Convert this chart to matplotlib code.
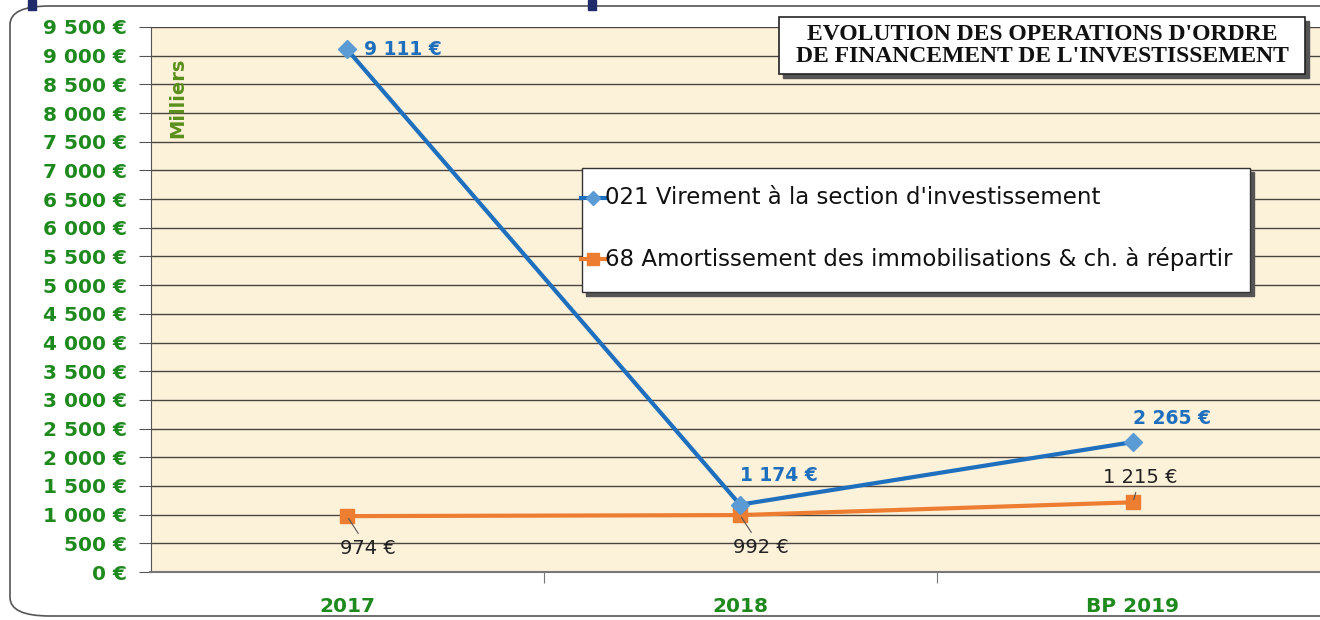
import numpy as np
import matplotlib.pyplot as plt
from matplotlib.patches import FancyBboxPatch, Rectangle

categories = ['2017', '2018', 'BP 2019']
virement = [9111, 1174, 2265]
amortissement = [974, 992, 1215]
virement_labels = ['9 111 €', '1 174 €', '2 265 €']
amort_labels = ['974 €', '992 €', '1 215 €']
yticks = np.arange(0, 9501, 500)

def fmt(v):
    return '{:,}'.format(int(v)).replace(',', ' ') + ' €'

green = '#1e8a1e'
blue = '#1f6fbf'
orange = '#ed7d31'

fig = plt.figure(figsize=(13.2, 6.2), dpi=100)

# outer frame
frame = FancyBboxPatch((10/1320, 4/620), 1400/1320, 610/620,
                       boxstyle='round,pad=0,rounding_size=0.03',
                       transform=fig.transFigure, fill=False, ec='#555555', lw=1.2)
fig.patches.append(frame)
for xx in [28, 588]:
    fig.patches.append(Rectangle((xx/1320, 610/620), 8/1320, 10/620,
                                 transform=fig.transFigure, color='#1f2a6b'))

ax = fig.add_axes([150.5/1320, 48/620, 1179/1320, 545/620])
ax.set_facecolor('#fcf1d9')
x = np.arange(len(categories))

ax.plot(x, virement, color=blue, lw=3, marker='D', markersize=9,
        markerfacecolor='#5b9bd5', markeredgecolor='#5b9bd5', zorder=4)
ax.plot(x, amortissement, color=orange, lw=3, marker='s', markersize=10,
        markerfacecolor=orange, markeredgecolor=orange, zorder=3)

ax.set_xlim(-0.5, 2.5)
ax.set_ylim(0, 9500)
ax.set_yticks(yticks)
ax.set_yticklabels([fmt(v) for v in yticks], color=green, fontsize=14.5, fontweight='bold')
ax.set_xticks([0.5, 1.5])
ax.set_xticklabels([])
ax.tick_params(axis='x', length=8, color='#777777')
ax.tick_params(axis='y', length=9, color='#555555', pad=8)
for i, c in enumerate(categories):
    fig.text((150.5 + 393 * (i + 0.5)) / 1320, (620 - 606) / 620, c, ha='center', va='center',
             color=green, fontsize=14.5, fontweight='bold')
ax.grid(axis='y', color='#4a4540', lw=1)
ax.set_axisbelow(True)
for s in ['top', 'right']:
    ax.spines[s].set_visible(False)
ax.spines['left'].set_color('#555555')
ax.spines['bottom'].set_color('#777777')
ax.spines['bottom'].set_linewidth(1.5)

# data labels
ax.annotate(virement_labels[0], (0, virement[0]), xytext=(12, 0), textcoords='offset points',
            color=blue, fontsize=13.5, fontweight='bold', va='center')
ax.annotate(virement_labels[1], (1, virement[1]), xytext=(0, 14), textcoords='offset points',
            color=blue, fontsize=13.5, fontweight='bold', va='bottom')
ax.annotate(virement_labels[2], (2, virement[2]), xytext=(0, 10), textcoords='offset points',
            color=blue, fontsize=13.5, fontweight='bold', va='bottom', ha='left')
for i, (v, lab) in enumerate(zip(amortissement, amort_labels)):
    if i < 2:
        ax.annotate(lab, (i, v), xytext=(15, -23), textcoords='offset points',
                    fontsize=14, color='#222222', ha='center', va='center',
                    arrowprops=dict(arrowstyle='-', color='#555555', lw=0.8))
    else:
        ax.annotate(lab, (i, v), xytext=(5, 18), textcoords='offset points',
                    fontsize=14, color='#222222', ha='center', va='center',
                    arrowprops=dict(arrowstyle='-', color='#555555', lw=0.8))

ax.text(0.023, 0.87, 'Milliers', transform=ax.transAxes, rotation=90, color='#5a8f1a',
        fontsize=14, fontweight='bold', ha='center', va='center')

# legend box
lx0, ly0, lw_, lh = 582/1320, (620-292)/620, 668/1320, 124/620
fig.patches.append(Rectangle((lx0 + 4/1320, ly0 - 4/620), lw_, lh, transform=fig.transFigure,
                             color='#555555', zorder=5))
fig.patches.append(Rectangle((lx0, ly0), lw_, lh, transform=fig.transFigure,
                             fc='white', ec='#333333', lw=1, zorder=6))
for col, mk, ms, mfc, txt, yy in [
        (blue, 'D', 7, '#5b9bd5', '021 Virement à la section d\'investissement', 198),
        (orange, 's', 9, orange, '68 Amortissement des immobilisations & ch. à répartir', 259)]:
    fig.lines.append(plt.Line2D([581/1320, 605/1320], [(620-yy)/620]*2, transform=fig.transFigure,
                                color=col, lw=3, zorder=7))
    fig.lines.append(plt.Line2D([593/1320], [(620-yy)/620], transform=fig.transFigure,
                                color=mfc, marker=mk, markersize=ms, lw=0, zorder=8))
    fig.text(605/1320, (620-yy)/620, txt, fontsize=16.5, color='#111111', va='center', zorder=9)

# title box
tx0, ty0, tw, th = 779/1320, (620-74)/620, 526/1320, 57/620
fig.patches.append(Rectangle((tx0 + 4/1320, ty0 - 4/620), tw, th, transform=fig.transFigure,
                             color='#555555', zorder=5))
fig.patches.append(Rectangle((tx0, ty0), tw, th, transform=fig.transFigure,
                             fc='white', ec='#222222', lw=1.2, zorder=6))
fig.text(tx0 + tw/2, ty0 + th/2, "EVOLUTION DES OPERATIONS D'ORDRE\nDE FINANCEMENT DE L'INVESTISSEMENT",
         fontsize=17, fontweight='bold', family='Liberation Serif', ha='center', va='center',
         linespacing=1.0, color='#111111', zorder=7)

fig.savefig('out.png', dpi=100)
